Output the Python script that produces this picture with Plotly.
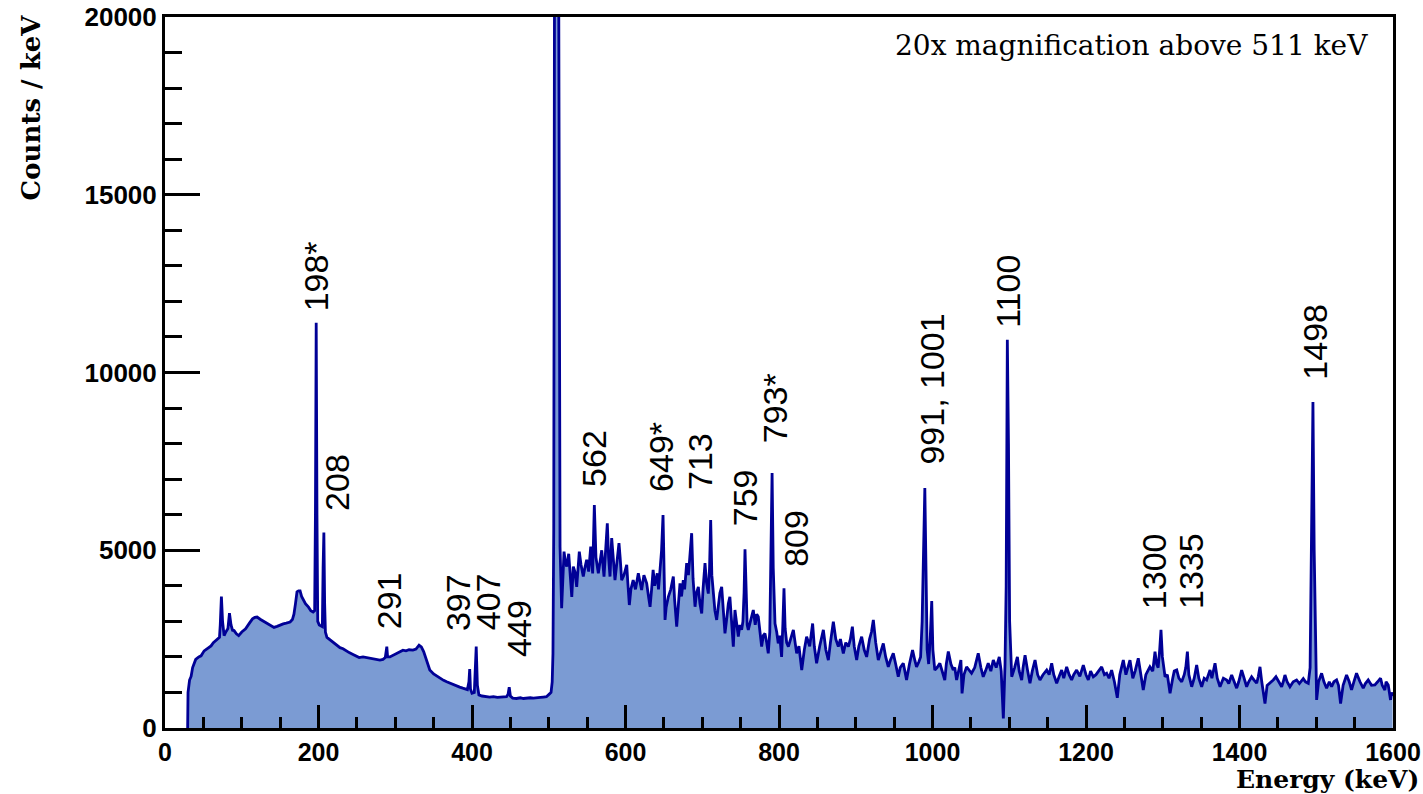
import plotly.graph_objects as go

# ---------------- data ----------------
energy_keV = [
    29.5, 30, 32, 34, 36, 40, 44, 47, 51, 55,
    60, 63, 66, 69, 71, 72, 73.5, 75, 77, 79,
    82, 84, 86, 88, 90, 93, 96, 100, 105, 110,
    114, 117, 120, 124, 127, 130, 133, 137, 142, 146,
    150, 154, 158, 163, 166, 168, 170, 172, 174, 176,
    178, 180, 183, 187, 190, 193, 195, 196, 197, 198,
    199, 201, 203, 205, 206, 207, 208, 209, 211, 215,
    219, 224, 228, 232, 236, 240, 245, 249, 253, 258,
    264, 270, 276, 280, 284, 287, 289, 290, 293, 297,
    301, 305, 310, 314, 318, 323, 327, 331, 334, 337,
    339, 342, 345, 350, 354, 358, 363, 367, 371, 376,
    380, 384, 388, 392, 394, 396, 397, 398, 400, 403,
    404, 405.5, 407, 409, 413, 418, 423, 428, 433, 437,
    441, 445, 447, 448.5, 450, 453, 458, 463, 467, 471,
    476, 480, 485, 489, 493, 497, 501, 503, 504.5, 505.5,
    506.5, 508, 510, 512, 514.7, 516.8, 519.9, 521.5, 523.4, 526,
    528, 530, 532, 534, 536.4, 539.8, 542, 545, 547, 549.4,
    552, 554.7, 557.2, 559.4, 561.5, 564.6, 567, 569, 572, 574,
    576.3, 578, 579.8, 582, 584, 586.3, 589, 591.5, 593, 595,
    598, 601.6, 603, 605, 607, 610, 613, 616.7, 619, 621,
    624, 627.6, 630, 632, 634, 636, 638, 641.4, 643, 645.8,
    647, 648.9, 650, 651.5, 653, 655.8, 659, 662.3, 664, 666.7,
    669, 671, 673, 675.3, 677, 679.7, 682, 684, 686.2, 688,
    690.6, 692.5, 694.9, 697, 699.3, 701, 703.6, 705.5, 707.9, 709.5,
    711, 712.5, 714.4, 716.5, 718.8, 721, 723, 725.3, 727.5, 729.6,
    732, 734, 736, 738, 740.5, 742.6, 745, 747, 749, 751.3,
    753, 754.5, 755.7, 757, 758.5, 760, 763, 766.5, 769, 771,
    773, 775, 777.4, 779.5, 781.7, 784, 786, 788, 789.5, 791,
    792.5, 794.8, 797, 799, 801, 803.4, 805, 806.5, 808, 810,
    812.2, 815, 818.7, 821, 823, 826, 829.6, 833, 836, 840,
    843.8, 846, 849, 853, 857.8, 861, 864.3, 867, 870.8, 874,
    877.3, 880, 883.8, 887, 890.4, 893, 895.6, 898, 901.2, 904,
    907.7, 911, 914.2, 918, 920.5, 922.9, 926, 929.4, 933, 935.9,
    939, 942.4, 945, 948.9, 952, 955.4, 958, 961.9, 964, 966.2,
    970, 974, 977, 979.2, 982, 984.5, 986.5, 988.5, 990, 991.5,
    993, 995, 997, 999, 1000.5, 1003, 1006, 1009.6, 1013, 1016,
    1018, 1020.6, 1024, 1027, 1029, 1031.4, 1034, 1037, 1038.5, 1041,
    1044.4, 1048, 1050.9, 1055, 1059.6, 1063, 1066.1, 1069, 1072.6, 1076,
    1079.2, 1083, 1087, 1089.5, 1092.3, 1094.5, 1096, 1097.5, 1099, 1100.5,
    1103.2, 1107, 1110.6, 1113, 1116.2, 1118, 1120.6, 1124, 1127, 1130,
    1133.6, 1137, 1140, 1144, 1148.8, 1152, 1155.3, 1158, 1161.8, 1165,
    1168.3, 1171, 1174.8, 1178, 1181.3, 1184, 1187.8, 1192, 1196.5, 1200,
    1203, 1206, 1209.5, 1213, 1216, 1220.4, 1224, 1226.9, 1230, 1233.4,
    1237, 1240.8, 1244, 1248.6, 1252, 1257.3, 1261, 1264, 1268.1, 1271,
    1274.6, 1278, 1283.3, 1287, 1289.9, 1292, 1294, 1296, 1297.7, 1299.5,
    1301, 1303, 1306, 1309.5, 1313, 1315, 1318.2, 1321, 1324.7, 1328,
    1330, 1332.1, 1334, 1337.7, 1341, 1344.2, 1347, 1350.7, 1354, 1357.2,
    1361.6, 1364, 1368.1, 1371, 1374.6, 1379, 1383.3, 1386, 1389.8, 1393,
    1396.3, 1399, 1402.8, 1406, 1409.3, 1412, 1415.8, 1419, 1422.4, 1424.5,
    1426.7, 1429, 1433.2, 1436, 1439.7, 1444, 1447.5, 1451, 1454.9, 1457,
    1459.2, 1462, 1465.7, 1470, 1474.4, 1478, 1483.1, 1486, 1489.6, 1492,
    1494, 1495.7, 1497.3, 1499, 1500.5, 1503, 1507, 1510, 1513.5, 1517,
    1520, 1523, 1526.5, 1529, 1531.7, 1535, 1539.5, 1543, 1546, 1549,
    1552.5, 1557, 1561.2, 1564, 1567.7, 1572, 1576.4, 1580, 1583.8, 1586,
    1589.4, 1591, 1593.8, 1596.8, 1598, 1599.5,
]

counts_per_keV = [
    0, 1000, 1350, 1450, 1700, 1930, 2000, 2030, 2170, 2230,
    2310, 2400, 2450, 2520, 2550, 2900, 3700, 3000, 2600, 2690,
    2800, 3230, 2900, 2750, 2740, 2650, 2600, 2700, 2790, 2950,
    3070, 3110, 3120, 3060, 3020, 2980, 2930, 2880, 2830, 2860,
    2900, 2930, 2950, 2980, 3050, 3200, 3500, 3830, 3860, 3860,
    3700, 3600, 3500, 3400, 3300, 3260, 3300, 6000, 11400, 6000,
    3000, 2900, 2880, 2850, 4500, 5500, 3500, 2700, 2550, 2480,
    2400, 2320, 2260, 2230, 2170, 2120, 2070, 2020, 1980, 2000,
    1970, 1960, 1930, 1910, 1930, 1980, 2290, 2000, 2000, 2050,
    2100, 2150, 2190, 2170, 2200, 2190, 2220, 2330, 2280, 2150,
    2010, 1800, 1630, 1520, 1460, 1400, 1340, 1300, 1260, 1210,
    1180, 1150, 1120, 1090, 1080, 1300, 1660, 1100, 980, 1000,
    1400, 2290, 1200, 930, 900, 880, 870, 880, 860, 870,
    870, 880, 950, 1150, 900, 840, 830, 850, 830, 840,
    850, 840, 860, 860, 870, 880, 960, 1000, 1300, 2100,
    5600, 30000, 60000, 30000, 5100, 3370, 4960, 4700, 4540, 4900,
    4200, 3690, 4540, 4400, 3970, 4960, 4600, 4260, 4500, 4730,
    4400, 5100, 4350, 6270, 4800, 4350, 4700, 5000, 4260, 4900,
    5760, 4800, 4260, 5340, 4700, 4160, 4700, 5200, 4800, 4160,
    4300, 4590, 4100, 3460, 3900, 4160, 3900, 4350, 4100, 3880,
    4300, 4070, 3700, 3410, 3900, 4450, 4000, 4350, 3900, 4640,
    5000, 5990, 4200, 3040, 3400, 3690, 3900, 4260, 3600, 2850,
    3500, 4070, 3700, 4160, 3900, 4640, 4300, 4800, 5480, 4200,
    3410, 3800, 3970, 3500, 3220, 3900, 4640, 4100, 3780, 4500,
    5850, 4300, 3690, 3300, 3040, 3500, 3800, 3970, 3200, 2660,
    3100, 3500, 3690, 2900, 2290, 3320, 2900, 2570, 2900, 2760,
    3000, 3800, 5030, 3600, 2900, 2760, 3000, 3320, 2900, 3200,
    3130, 2700, 2290, 2600, 2660, 2400, 2100, 2700, 4500, 7170,
    4500, 2940, 2700, 2380, 2600, 2000, 2900, 3930, 2800, 2400,
    2290, 2500, 2760, 2400, 2100, 2300, 1630, 2200, 2570, 2300,
    2940, 2300, 1820, 2300, 2760, 2200, 1910, 2400, 2990, 2500,
    2290, 2500, 2100, 2400, 2290, 2500, 2850, 2300, 1910, 2300,
    2570, 2200, 2000, 2500, 2700, 3040, 2400, 1910, 2200, 2380,
    2000, 1720, 1900, 2100, 1800, 1440, 1700, 1820, 1600, 1350,
    1800, 2190, 1900, 1720, 1850, 2000, 3000, 5500, 6750, 4500,
    2200, 1800, 2500, 3570, 2200, 1630, 1700, 1820, 1600, 1350,
    1800, 2150, 1800, 1630, 1700, 1350, 1600, 1910, 975, 1500,
    1720, 1600, 1540, 1700, 2100, 1700, 1440, 1600, 1820, 1600,
    1910, 1700, 2000, 1600, 270, 1800, 4000, 10920, 8000, 3000,
    1440, 1700, 2000, 1600, 1350, 1700, 2050, 1600, 1260, 1600,
    1910, 1500, 1350, 1500, 1630, 1500, 1820, 1500, 1260, 1450,
    1630, 1400, 1720, 1500, 1350, 1500, 1630, 1450, 1770, 1500,
    1350, 1600, 1440, 1500, 1600, 1720, 1500, 1540, 1400, 1630,
    1300, 850, 1500, 1910, 1500, 1910, 1400, 1600, 1960, 1500,
    1070, 1500, 1720, 1600, 2150, 1800, 1700, 2200, 2760, 2000,
    1800, 1440, 1500, 975, 1400, 1600, 1630, 1400, 1300, 1500,
    1700, 2150, 1500, 1160, 1400, 1770, 1400, 1160, 1400, 1350,
    1630, 1400, 1820, 1400, 1160, 1400, 1350, 1250, 1490, 1300,
    1120, 1300, 1630, 1400, 1160, 1300, 1440, 1350, 1260, 1450,
    1720, 1300, 690, 1200, 1260, 1350, 1440, 1300, 1160, 1300,
    1490, 1300, 1160, 1300, 1350, 1250, 1390, 1300, 1260, 1700,
    5000, 9170, 5000, 1800, 790, 1300, 1540, 1300, 1120, 1300,
    1160, 1300, 1350, 1200, 690, 1200, 1490, 1300, 1070, 1300,
    1540, 1300, 1120, 1250, 1350, 1200, 1210, 1300, 1400, 1200,
    1070, 1300, 1210, 790, 1000, 900,
]

peak_labels = ["198*", "208", "291", "397", "407", "449", "562", "649*", "713",
               "759", "793*", "809", "991, 1001", "1100", "1300", "1335", "1498"]
# label centre positions (layout, in axis units)
label_x = [197, 224, 292, 382, 421, 461, 559, 646, 697,
           756, 795, 823, 999, 1098, 1289, 1337, 1498]
label_y = [12710, 6920, 3570, 3520, 3540, 2810, 7570, 7620, 7510,
           6470, 9000, 5340, 9540, 12290, 4420, 4420, 10860]

x_ticks = [0, 200, 400, 600, 800, 1000, 1200, 1400, 1600]
x_ticktext = ["0", "200", "400", "600", "800", "1000", "1200", "1400", "1600"]
y_ticks = [0, 5000, 10000, 15000, 20000]
y_ticktext = ["0", "5000", "10000", "15000", "20000"]

# ---------------- figure ----------------
fig = go.Figure()
fig.add_trace(go.Scatter(
    x=energy_keV, y=counts_per_keV, mode="lines",
    line=dict(color="#000096", width=2.8),
    fill="tozeroy", fillcolor="rgb(123,155,211)",
    hoverinfo="skip", showlegend=False,
))

for t, lx, ly in zip(peak_labels, label_x, label_y):
    fig.add_annotation(x=lx, y=ly, xref="x", yref="y", text=t, textangle=-90,
                       showarrow=False, xanchor="center", yanchor="middle",
                       font=dict(family="Liberation Sans", size=34, color="black"))

fig.add_annotation(x=0.981, y=0.9606, xref="paper", yref="paper",
                   text="20x magnification above 511 keV", showarrow=False,
                   xanchor="right", yanchor="middle",
                   font=dict(family="DejaVu Serif", size=28, color="black"))

fig.add_annotation(x=1.0228, y=-0.073, xref="paper", yref="paper",
                   text="<b>Energy (keV)</b>", showarrow=False,
                   xanchor="right", yanchor="middle",
                   font=dict(family="DejaVu Serif", size=25, color="black"))

fig.add_annotation(x=-0.109, y=0.873, xref="paper", yref="paper",
                   text="<b>Counts / keV</b>", showarrow=False, textangle=-90,
                   xanchor="center", yanchor="middle",
                   font=dict(family="DejaVu Serif", size=26, color="black"))

tickfont = dict(family="Liberation Sans", size=25, color="black", weight="bold")
ytickfont = dict(family="Liberation Sans", size=26, color="black", weight="bold")

fig.update_xaxes(range=[0, 1600], tickvals=x_ticks, ticktext=x_ticktext,
                 ticks="inside", ticklen=23, automargin=False,
                 ticklabeloverflow="allow",
                 tickwidth=3, tickcolor="black", showline=True, linewidth=3,
                 linecolor="black", mirror=True, showgrid=False, zeroline=False,
                 tickfont=tickfont,
                 minor=dict(dtick=50, ticks="inside", ticklen=11, tickwidth=3,
                            tickcolor="black", showgrid=False))
fig.update_yaxes(range=[0, 20000], tickvals=y_ticks, ticktext=y_ticktext,
                 ticks="inside", ticklen=35, automargin=False,
                 ticklabeloverflow="allow",
                 tickwidth=3, tickcolor="black", showline=True, linewidth=3,
                 linecolor="black", mirror=True, showgrid=False, zeroline=False,
                 tickfont=ytickfont,
                 minor=dict(dtick=1000, ticks="inside", ticklen=17, tickwidth=3,
                            tickcolor="black", showgrid=False))

fig.update_layout(width=1423, height=794, autosize=False,
                  margin=dict(l=165, r=30, t=17, b=66),
                  plot_bgcolor="white", paper_bgcolor="white")

fig.write_html("out.html")
